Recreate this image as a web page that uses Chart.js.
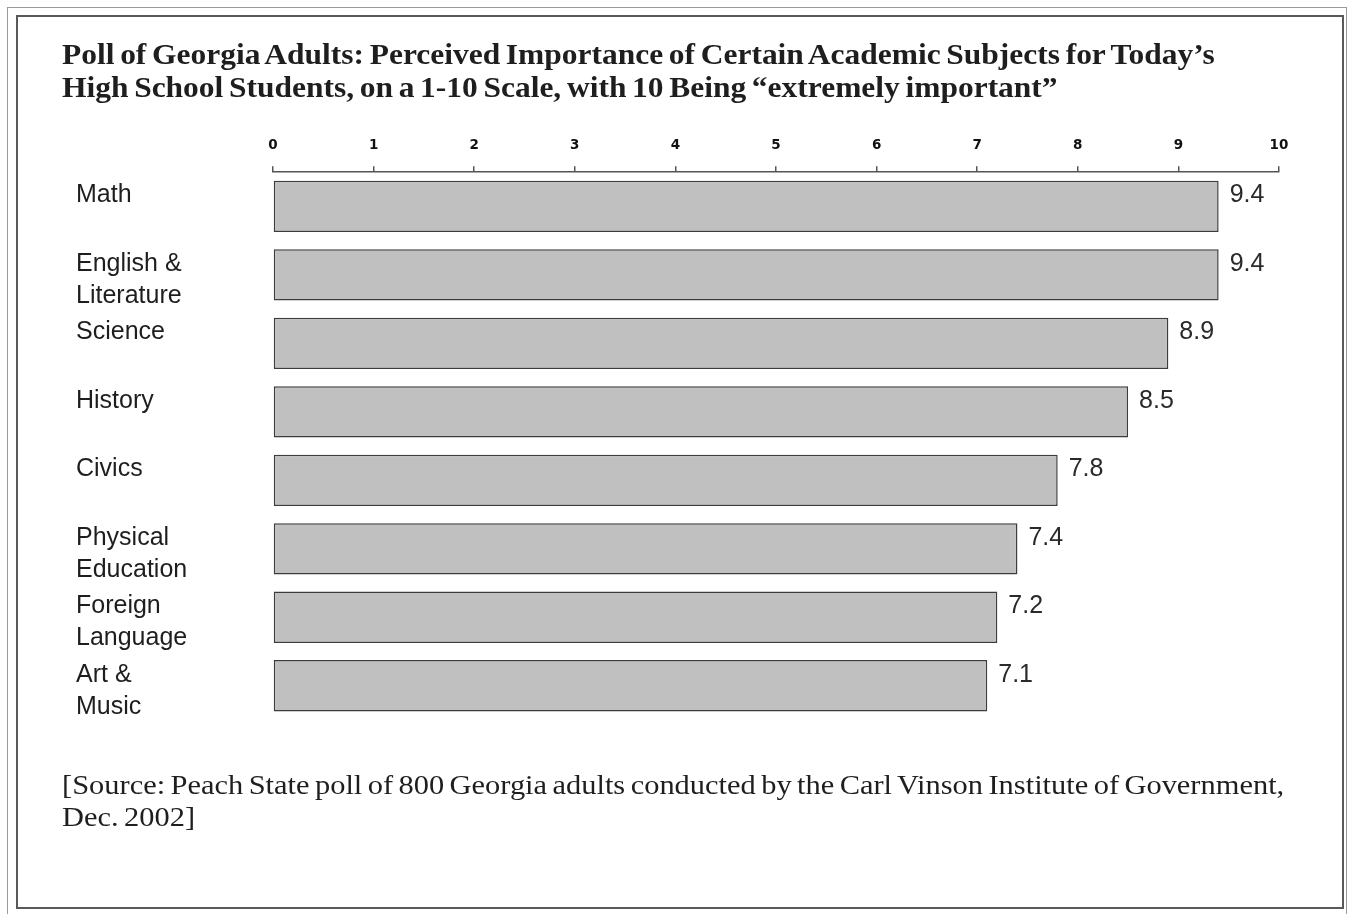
<!DOCTYPE html>
<html>
<head>
<meta charset="utf-8">
<script src="https://cdn.jsdelivr.net/npm/chart.js@4.4.1/dist/chart.umd.min.js"></script>
<style>
  html, body { margin: 0; padding: 0; background: #fff; }
  body { width: 1351px; height: 914px; position: relative; overflow: hidden; }
  .outer { position: absolute; left: 7px; top: 7px; width: 1340px; height: 920px; border: 1px solid #9a9a9a; border-bottom: none; box-sizing: border-box; }
  .inner { position: absolute; left: 16px; top: 15px; width: 1328px; height: 894px; border: 2px solid #5a5a5a; box-sizing: border-box; }
  #chart { position: absolute; left: 0; top: 0; }
  .title { position: absolute; left: 62px; top: 38px; font: bold 29px "Liberation Serif", "Times New Roman", serif; line-height: 33px; color: #1e1e1e; word-spacing: -2px; white-space: nowrap; transform: scaleX(1.085); transform-origin: 0 0; }
  .source { position: absolute; left: 62px; top: 769px; font: 28px "Liberation Serif", "Times New Roman", serif; line-height: 32px; color: #1e1e1e; word-spacing: -2px; white-space: nowrap; transform: scaleX(1.087); transform-origin: 0 0; }
</style>
</head>
<body>
<div class="outer"></div>
<div class="inner"></div>
<canvas id="chart" width="1351" height="914"></canvas>
<div class="title">Poll of Georgia Adults: Perceived Importance of Certain Academic Subjects for Today’s<br>High School Students, on a 1-10 Scale, with 10 Being “extremely important”</div>
<div class="source">[Source: Peach State poll of 800 Georgia adults conducted by the Carl Vinson Institute of Government,<br>Dec. 2002]</div>
<script>
// Subjects (label lines) and mean importance ratings
const subjects = [
  ["Math", ""],
  ["English &", "Literature"],
  ["Science", ""],
  ["History", ""],
  ["Civics", ""],
  ["Physical", "Education"],
  ["Foreign", "Language"],
  ["Art &", "Music"]
];
const ratings = [9.4, 9.4, 8.9, 8.5, 7.8, 7.4, 7.2, 7.1];
const scaleTicks = [0, 1, 2, 3, 4, 5, 6, 7, 8, 9, 10];

// Writes each rating just past the end of its bar
const valueLabels = {
  id: 'valueLabels',
  afterDatasetsDraw(chart) {
    const ctx = chart.ctx;
    const meta = chart.getDatasetMeta(0);
    ctx.save();
    ctx.font = '25px "Liberation Sans", Arial, sans-serif';
    ctx.fillStyle = '#2a2a2a';
    ctx.textAlign = 'left';
    ctx.textBaseline = 'middle';
    meta.data.forEach((bar, i) => {
      ctx.fillText(ratings[i].toFixed(1), bar.x + 11, bar.y - 11);
    });
    ctx.restore();
  }
};

new Chart(document.getElementById('chart'), {
  type: 'bar',
  data: {
    labels: subjects,
    datasets: [{
      data: ratings,
      backgroundColor: '#c0c0c0',
      borderColor: '#3c3c3c',
      borderWidth: 1.5,
      borderSkipped: false,
      barPercentage: 0.75,
      categoryPercentage: 1
    }]
  },
  options: {
    indexAxis: 'y',
    responsive: false,
    animation: false,
    layout: { padding: { left: 76, right: 72, top: 124, bottom: 194 } },
    plugins: {
      legend: { display: false },
      tooltip: { enabled: false }
    },
    scales: {
      x: {
        position: 'top',
        min: 0,
        max: 10,
        afterBuildTicks(scale) { scale.ticks = scaleTicks.map(v => ({ value: v })); },
        grid: { drawOnChartArea: false, tickLength: 6, color: '#555', lineWidth: 1.5 },
        border: { display: true, color: '#555', width: 1.5 },
        ticks: {
          padding: 13,
          color: '#111',
          font: { family: '"DejaVu Sans", sans-serif', size: 13.5, weight: 'bold', lineHeight: 1.2 }
        }
      },
      y: {
        afterFit(scale) { scale.width = 197; },
        grid: { display: false },
        border: { display: false },
        ticks: {
          crossAlign: 'far',
          labelOffset: 5,
          color: '#1e1e1e',
          font: { family: '"Liberation Sans", Arial, sans-serif', size: 25, lineHeight: 1.28 }
        }
      }
    }
  },
  plugins: [valueLabels]
});
</script>
</body>
</html>
